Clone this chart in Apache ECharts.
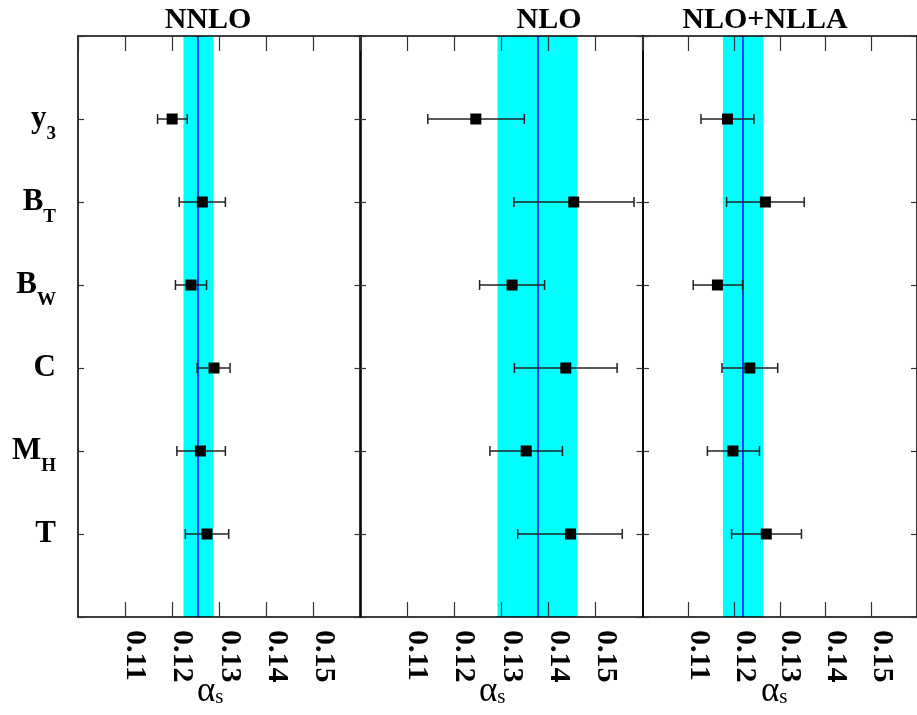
<!DOCTYPE html>
<html>
<head>
<meta charset="utf-8">
<script src="https://cdn.jsdelivr.net/npm/echarts@6/dist/echarts.min.js"></script>
<style>html,body{margin:0;padding:0;background:#fff}#c{width:917px;height:715px}</style>
</head>
<body>
<div id="c"></div>
<script>
// ---- data ----
var panelTitles = ['NNLO', 'NLO', 'NLO+NLLA'];
var catMain = ['y', 'B', 'B', 'C', 'M', 'T'];
var catSub = ['3', 'T', 'W', '', 'H', ''];
var xTicks = [0.10, 0.11, 0.12, 0.13, 0.14, 0.15, 0.16];

var nnloVal = [0.1200, 0.1264, 0.1240, 0.1289, 0.1260, 0.1274];
var nnloLo  = [0.1169, 0.1215, 0.1207, 0.1253, 0.1210, 0.1228];
var nnloHi  = [0.1232, 0.1313, 0.1273, 0.1323, 0.1313, 0.1320];
var nnloBand = [0.1224, 0.1287];
var nnloMean = 0.1255;

var nloVal = [0.1246, 0.1454, 0.1323, 0.1437, 0.1353, 0.1447];
var nloLo  = [0.1144, 0.1327, 0.1254, 0.1328, 0.1276, 0.1335];
var nloHi  = [0.1349, 0.1582, 0.1392, 0.1546, 0.1430, 0.1557];
var nloBand = [0.1292, 0.1461];
var nloMean = 0.1377;

var nllaVal = [0.1185, 0.1268, 0.1163, 0.1234, 0.1197, 0.1270];
var nllaLo  = [0.1127, 0.1183, 0.1110, 0.1173, 0.1141, 0.1194];
var nllaHi  = [0.1243, 0.1353, 0.1218, 0.1295, 0.1255, 0.1347];
var nllaBand = [0.1175, 0.1263];
var nllaMean = 0.1219;

// ---- build ----
var panels = [
  {val: nnloVal, lo: nnloLo, hi: nnloHi, band: nnloBand, mean: nnloMean},
  {val: nloVal, lo: nloLo, hi: nloHi, band: nloBand, mean: nloMean},
  {val: nllaVal, lo: nllaLo, hi: nllaHi, band: nllaBand, mean: nllaMean}
];
var gridLeft = [78, 360, 643];
var gridW = 282.5;
var SERIF = '"Liberation Serif", "DejaVu Serif", serif';

var grids = [], xAxes = [], yAxes = [], series = [], titles = [], graphics = [];
var titleX = [203, 544, 760];
var alphaX = [197, 479, 761];

panels.forEach(function (p, i) {
  grids.push({left: gridLeft[i], width: gridW, top: 36, height: 581, containLabel: false});
  var xBase = {
    gridIndex: i, type: 'value', min: xTicks[0], max: xTicks[xTicks.length - 1], interval: 0.01,
    z: 6,
    axisLine: {show: true, onZero: false, lineStyle: {color: '#000', width: 1.6}},
    axisTick: {show: true, inside: true, length: 15, lineStyle: {color: '#333', width: 1.2}},
    splitLine: {show: false}
  };
  xAxes.push(Object.assign({}, xBase, {
    position: 'bottom',
    axisLabel: {
      show: true, rotate: -90, margin: 13, color: '#000',
      fontFamily: SERIF, fontWeight: 'bold', fontSize: 30,
      showMinLabel: false, showMaxLabel: false,
      verticalAlign: 'bottom', lineHeight: 20,
      formatter: function (v) {
        var t = Math.round(v * 100) / 100;
        if (t <= xTicks[0] || t >= xTicks[xTicks.length - 1]) return '';
        return t.toFixed(2);
      }
    }
  }));
  xAxes.push(Object.assign({}, xBase, {position: 'top', axisLabel: {show: false}}));
  var yBase = {
    gridIndex: i, type: 'value', min: 0, max: catMain.length + 1, interval: 1, inverse: true,
    z: 6,
    axisLine: {show: true, onZero: false, lineStyle: {color: '#000', width: 1.6}},
    axisTick: {show: true, inside: true, length: 6, lineStyle: {color: '#333', width: 1.2}},
    splitLine: {show: false}
  };
  yAxes.push(Object.assign({}, yBase, {
    position: 'left',
    axisLabel: i === 0 ? {
      show: true, margin: 22, align: 'right',
      formatter: function (v) {
        var k = Math.round(v) - 1;
        if (k < 0 || k >= catMain.length) return '';
        return '{m|' + catMain[k] + '}' + (catSub[k] ? '{s|' + catSub[k] + '}' : '');
      },
      rich: {
        m: {fontFamily: SERIF, fontWeight: 'bold', fontSize: 31, lineHeight: 50, color: '#000', verticalAlign: 'middle'},
        s: {fontFamily: SERIF, fontWeight: 'bold', fontSize: 19, lineHeight: 20, color: '#000', verticalAlign: 'bottom'}
      }
    } : {show: false}
  }));
  yAxes.push(Object.assign({}, yBase, {position: 'right', axisLabel: {show: false}}));

  var data = p.val.map(function (v, k) { return [k + 1, p.lo[k], v, p.hi[k]]; });
  series.push({
    type: 'custom',
    xAxisIndex: 2 * i, yAxisIndex: 2 * i,
    z: 4,
    data: data,
    encode: {x: [1, 2, 3], y: 0},
    renderItem: function (params, api) {
      var y = api.value(0);
      var pl = api.coord([api.value(1), y]);
      var pc = api.coord([api.value(2), y]);
      var ph = api.coord([api.value(3), y]);
      var cap = 5, sq = 11;
      var ls = {stroke: '#222', lineWidth: 1.5};
      return {
        type: 'group',
        children: [
          {type: 'line', shape: {x1: pl[0], y1: pl[1], x2: ph[0], y2: ph[1]}, style: ls},
          {type: 'line', shape: {x1: pl[0], y1: pl[1] - cap, x2: pl[0], y2: pl[1] + cap}, style: ls},
          {type: 'line', shape: {x1: ph[0], y1: ph[1] - cap, x2: ph[0], y2: ph[1] + cap}, style: ls},
          {type: 'rect', shape: {x: pc[0] - sq / 2, y: pc[1] - sq / 2, width: sq, height: sq}, style: {fill: '#000'}}
        ]
      };
    },
    markArea: {
      silent: true, z: 1, precision: 5,
      itemStyle: {color: '#00ffff'},
      data: [[{xAxis: p.band[0]}, {xAxis: p.band[1]}]]
    },
    markLine: {
      silent: true, z: 2, symbol: 'none', precision: 5,
      label: {show: false},
      lineStyle: {color: '#0000ff', width: 1.5, type: 'solid'},
      data: [{xAxis: p.mean}]
    }
  });

  titles.push({
    text: panelTitles[i], left: titleX[i], top: 0, textAlign: 'center',
    textStyle: {fontFamily: SERIF, fontWeight: 'bold', fontSize: 30, color: '#000'}
  });
  graphics.push({
    type: 'text', left: alphaX[i], top: 674,
    style: {
      text: '{a|\u03b1}{s|s}',
      rich: {
        a: {fontFamily: SERIF, fontSize: 35, lineHeight: 34, fill: '#000', verticalAlign: 'top'},
        s: {fontFamily: SERIF, fontSize: 21, lineHeight: 20, fill: '#000', verticalAlign: 'bottom'}
      }
    }
  });
});

var chart = echarts.init(document.getElementById('c'), null, {renderer: 'canvas'});
chart.setOption({
  animation: false,
  backgroundColor: '#fff',
  title: titles,
  grid: grids,
  xAxis: xAxes,
  yAxis: yAxes,
  series: series,
  graphic: graphics
});
</script>
</body>
</html>
